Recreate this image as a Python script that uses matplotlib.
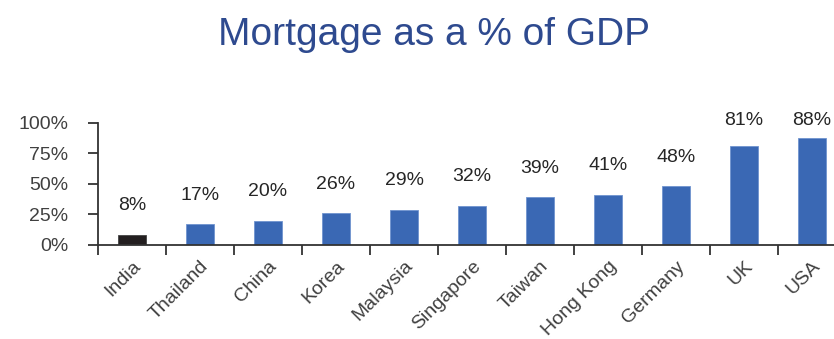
import matplotlib
matplotlib.use("Agg")
import matplotlib.pyplot as plt
from matplotlib.ticker import FixedLocator, PercentFormatter

plt.rcParams["font.family"] = ["Liberation Sans", "DejaVu Sans"]

countries = ["India", "Thailand", "China", "Korea", "Malaysia", "Singapore",
             "Taiwan", "Hong Kong", "Germany", "UK", "USA"]
mortgage_pct = [8, 17, 20, 26, 29, 32, 39, 41, 48, 81, 88]
bar_colors = ["#231F20"] + ["#3A68B4"] * (len(countries) - 1)

fig = plt.figure(figsize=(8.34, 3.39), dpi=100)
# plot area runs past the right edge, so the last gap is cut off
ax = fig.add_axes([0.1175, 0.2773, 0.897, 0.3599])

x = list(range(len(countries)))
vals = [v / 100 for v in mortgage_pct]
ax.bar(x, vals, width=0.41, color=bar_colors, edgecolor="#6F93CF",
       linewidth=0.6, zorder=2)
ax.patches[0].set_edgecolor("#444444")

# value labels sit above the bars, capped near the top of the plot area
for xi, v, txt in zip(x, vals, mortgage_pct):
    ax.text(xi, min(v + 0.17, 0.95), f"{txt}%", ha="center", va="bottom",
            fontsize=14, color="#262626")

ax.set_xlim(-0.5, len(countries) - 0.5)
ax.set_ylim(0, 1.0)
ax.yaxis.set_major_locator(FixedLocator([0, 0.25, 0.5, 0.75, 1.0]))
ax.yaxis.set_major_formatter(PercentFormatter(1.0, decimals=0))

ax.set_xticks(x)
ax.set_xticklabels(countries, rotation=45, ha="right", rotation_mode="anchor")
ax.xaxis.set_minor_locator(FixedLocator([i - 0.5 for i in range(len(countries) + 1)]))
ax.tick_params(axis="x", which="major", length=0, pad=9, labelsize=14,
               labelcolor="#404040")
ax.tick_params(axis="x", which="minor", length=7.2, width=1.3, color="#333333",
               direction="out")
ax.tick_params(axis="y", length=7.2, width=1.3, color="#333333", pad=14,
               labelsize=14, labelcolor="#404040")

for side in ("top", "right"):
    ax.spines[side].set_visible(False)
for side in ("left", "bottom"):
    ax.spines[side].set_color("#333333")
    ax.spines[side].set_linewidth(1.3)

fig.text(0.52, 0.867, "Mortgage as a % of GDP", ha="center", va="baseline",
         fontsize=28, color="#2E4A8F")

fig.savefig("out.png", dpi=100)
